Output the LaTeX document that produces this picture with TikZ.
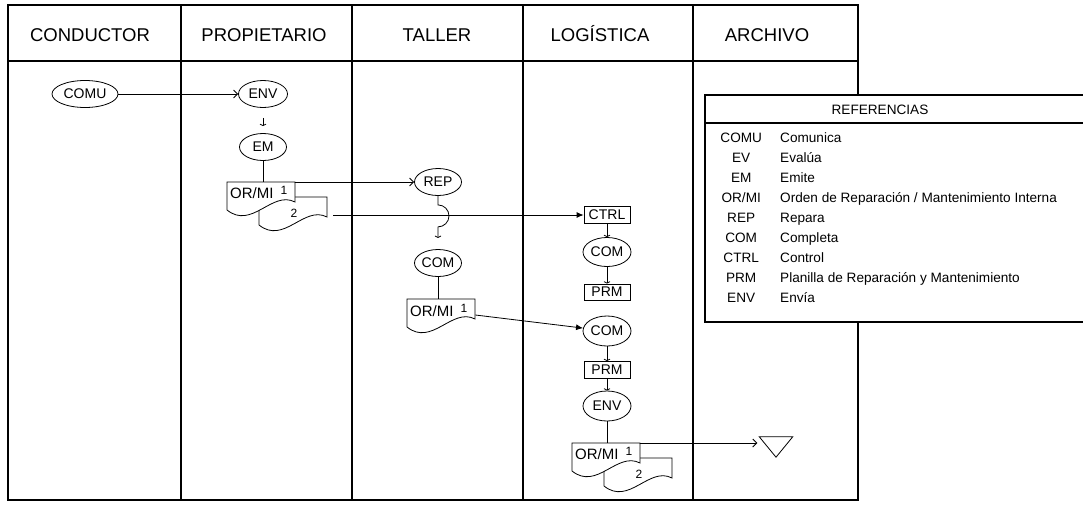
\documentclass[tikz,border=0pt]{standalone}
\usepackage{fontspec}
\setmainfont{Liberation Sans}
\usepackage{tikz}
\usetikzlibrary{arrows.meta, positioning, shapes.geometric, calc, matrix}

\newcommand{\docpage}[1]{%
  \filldraw[fill=white, line width=0.8pt, shift={#1}] (0,0) -- (68,0) -- (68,20)
    .. controls (45,8) and (25,48) .. (0,28) -- cycle;}

\begin{document}
\begin{tikzpicture}[x=1pt, y=-1pt,
    frame/.style={line width=1.3pt},
    link/.style={line width=0.8pt},
    oval/.style={draw, ellipse, line width=0.8pt, inner sep=0pt, minimum width=47pt, minimum height=27pt, font=\fontsize{14}{15}\selectfont},
    box/.style={draw, rectangle, line width=0.8pt, inner sep=0pt, minimum width=46pt, minimum height=17pt, font=\fontsize{14}{15}\selectfont},
    docbox/.style={rectangle, inner sep=0pt, minimum width=68pt, minimum height=28pt, anchor=north west},
    doctext/.style={font=\fontsize{15}{16}\selectfont, inner sep=0pt},
    docnum/.style={font=\fontsize{12}{13}\selectfont, inner sep=0pt},
    flow/.style={line width=0.8pt, -{Straight Barb[length=4pt,width=8pt]}},
    flowfill/.style={line width=0.8pt, -{Latex[length=7pt,width=6pt]}},
    tick/.style={line width=0.8pt, -{Straight Barb[length=1.5pt,width=6pt]}},
    lane/.style={font=\fontsize{18.5}{20}\selectfont, anchor=base},
    reftext/.style={font=\fontsize{13.6}{14}\selectfont}]
  \useasboundingbox (0,0) rectangle (1083,504);

  \draw[frame] (8,5) rectangle (858,500);
  \draw[frame] (8,61) -- (858,61);
  \foreach \x in {181,352,523,693} \draw[frame] (\x,5) -- (\x,500);

  \node[lane] (hcond) at (90,41) {CONDUCTOR};
  \node[lane] (hprop) at (264,41) {PROPIETARIO};
  \node[lane] (htall) at (437,41) {TALLER};
  \node[lane] (hlog) at (600,41) {LOGÍSTICA};
  \node[lane] (harch) at (767,41) {ARCHIVO};

  % conductor / propietario
  \node[oval, minimum width=66pt] (comu) at (85,94) {COMU};
  \node[oval, minimum width=49pt] (env1) at (263,94) {ENV};
  \node[oval] (em) at (263,147) {EM};
  \node[docbox] (d1) at (227,182) {};
  \docpage{($(d1.north west)+(32,15)$)}
  \docpage{(d1.north west)}
  \node[doctext, anchor=west] (d1t) at ($(d1.north west)+(3,11)$) {OR/MI};
  \node[docnum] (d1n1) at ($(d1.north west)+(57,8)$) {1};
  \node[docnum] (d1n2) at ($(d1.north west)+(67,31)$) {2};

  % taller
  \node[oval] (rep) at (438,182) {REP};
  \node[oval] (comt) at (438,263) {COM};
  \node[docbox] (d2) at (407,299) {};
  \docpage{(d2.north west)}
  \node[doctext, anchor=west] (d2t) at ($(d2.north west)+(3,12)$) {OR/MI};
  \node[docnum] (d2n1) at ($(d2.north west)+(57,9)$) {1};

  % logistica
  \node[box] (ctrl) at (607,215) {CTRL};
  \node[oval, minimum width=48pt, minimum height=29pt] (coml1) at (607,252) {COM};
  \node[box, minimum height=16pt] (prm1) at (607,292) {PRM};
  \node[oval, minimum width=48pt, minimum height=30pt] (coml2) at (607,331) {COM};
  \node[box] (prm2) at (607,370) {PRM};
  \node[oval, minimum width=48pt, minimum height=30pt] (env2) at (607,406) {ENV};
  \node[docbox] (d3) at (572,443) {};
  \docpage{($(d3.north west)+(32,15)$)}
  \docpage{(d3.north west)}
  \node[doctext, anchor=west] (d3t) at ($(d3.north west)+(3,11)$) {OR/MI};
  \node[docnum] (d3n1) at ($(d3.north west)+(57,8)$) {1};
  \node[docnum] (d3n2) at ($(d3.north west)+(67,31)$) {2};

  % archivo
  \node[inner sep=0pt, minimum width=33pt, minimum height=20pt] (arch) at (776,447) {};
  \draw[link] (arch.north west) -- (arch.north east) -- (arch.south) -- cycle;

  \coordinate (d1out) at ($(d1.north east)+(38,33)$);
  \coordinate (d2out) at ($(d2.north east)+(0,16)$);

  \draw[flow] (comu) -- (env1);
  \draw[tick, shorten <=10pt, shorten >=7pt] (env1.south) -- (em.north);
  \draw[link] (em.south) -- (em.south |- d1.north);
  \draw[flow] (d1.north east) -- (rep);
  \draw[flowfill] (d1out) -- (ctrl);
  \draw[tick] (rep.south) -- ++(0,9) arc[start angle=-90, end angle=90, radius=11] -- ++(0,11);
  \draw[link] (comt.south) -- (comt.south |- d2.north);
  \draw[flowfill] (d2out) -- (coml2);
  \draw[tick] (ctrl.south) -- (coml1.north);
  \draw[tick] (coml1.south) -- (prm1.north);
  \draw[tick] (coml2.south) -- (prm2.north);
  \draw[tick] (prm2.south) -- (env2.north);
  \draw[link] (env2.south) -- (env2.south |- d3.north);
  \draw[flow, shorten >=2pt] (d3.north east) -- (d3.north east -| arch.west);

  % referencias
  \draw[frame, fill=white] (1083,95) -| (705,322) -- (1083,322);
  \draw[frame] (705,123) -- (1083,123);
  \node[reftext] (refhead) at (880,110) {REFERENCIAS};
  \matrix (refs) [matrix of nodes, anchor=north west, inner sep=0pt, column sep=18pt,
      nodes={reftext, inner sep=0pt, text height=10pt, text depth=3pt, minimum height=20pt},
      column 1/.style={anchor=base, nodes={minimum width=42pt}},
      column 2/.style={anchor=base west}] at (720,129) {
    COMU & Comunica \\
    EV & Evalúa \\
    EM & Emite \\
    OR/MI & Orden de Reparación / Mantenimiento Interna \\
    REP & Repara \\
    COM & Completa \\
    CTRL & Control \\
    PRM & Planilla de Reparación y Mantenimiento \\
    ENV & Envía \\
  };
\end{tikzpicture}
\end{document}
